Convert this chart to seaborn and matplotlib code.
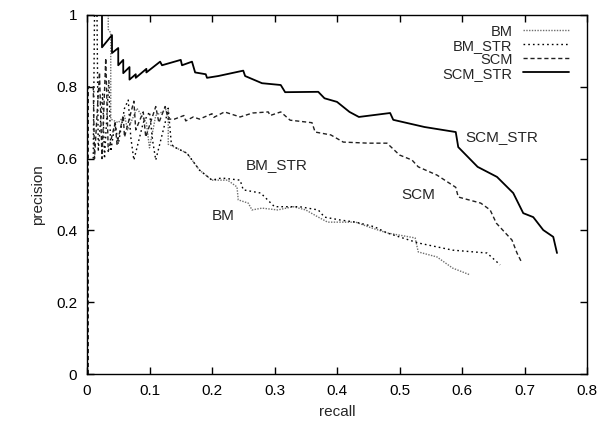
import matplotlib
matplotlib.use("Agg")
import matplotlib.pyplot as plt
import seaborn as sns
import pandas as pd

# ---- data ----
bm_recall = [0.034, 0.034, 0.038, 0.038, 0.05, 0.06, 0.065, 0.08, 0.095, 0.1, 0.11, 0.13, 0.13,
             0.14, 0.16, 0.18, 0.2, 0.225, 0.24, 0.242, 0.258, 0.264, 0.28, 0.305, 0.33, 0.35,
             0.37, 0.385, 0.43, 0.45, 0.48, 0.525, 0.53, 0.56, 0.585, 0.613]
bm_prec = [1.0, 0.96, 0.95, 0.71, 0.70, 0.72, 0.68, 0.74, 0.70, 0.63, 0.72, 0.74, 0.64,
           0.632, 0.615, 0.568, 0.54, 0.54, 0.521, 0.485, 0.476, 0.457, 0.462, 0.457, 0.466, 0.457,
           0.437, 0.423, 0.423, 0.41, 0.393, 0.379, 0.34, 0.326, 0.295, 0.276]

bmstr_recall = [0.01, 0.012, 0.016, 0.018, 0.025, 0.028, 0.035, 0.038, 0.045, 0.05, 0.06, 0.066,
                0.07, 0.075, 0.09, 0.1, 0.105, 0.11, 0.125, 0.13, 0.135, 0.14, 0.16, 0.18, 0.2,
                0.215, 0.245, 0.25, 0.278, 0.3, 0.34, 0.37, 0.38, 0.405, 0.43, 0.46, 0.48, 0.53,
                0.585, 0.64, 0.661]
bmstr_prec = [0.6, 1.0, 1.0, 0.62, 0.78, 0.6, 0.82, 0.62, 0.70, 0.64, 0.74, 0.763,
              0.66, 0.596, 0.70, 0.73, 0.65, 0.596, 0.70, 0.74, 0.64, 0.632, 0.615, 0.568, 0.54,
              0.546, 0.54, 0.513, 0.504, 0.466, 0.466, 0.457, 0.437, 0.429, 0.423, 0.41, 0.393, 0.365,
              0.345, 0.337, 0.304]

scm_recall = [0.002, 0.002, 0.01, 0.012, 0.02, 0.024, 0.03, 0.034, 0.045, 0.048, 0.058, 0.06,
              0.075, 0.078, 0.09, 0.094, 0.11, 0.115, 0.125, 0.13, 0.14, 0.155, 0.158, 0.17, 0.18,
              0.2, 0.203, 0.22, 0.245, 0.265, 0.29, 0.293, 0.31, 0.325, 0.36, 0.365, 0.39, 0.41,
              0.45, 0.48, 0.5, 0.52, 0.53, 0.56, 0.59, 0.594, 0.63, 0.645, 0.655, 0.68, 0.688, 0.696]
scm_prec = [0.0, 0.8, 0.8, 0.6, 0.84, 0.6, 0.88, 0.62, 0.70, 0.64, 0.72, 0.66,
            0.76, 0.68, 0.73, 0.66, 0.745, 0.70, 0.745, 0.71, 0.71, 0.72, 0.705, 0.716, 0.71,
            0.725, 0.715, 0.73, 0.716, 0.727, 0.73, 0.72, 0.73, 0.707, 0.70, 0.674, 0.666, 0.646,
            0.643, 0.643, 0.61, 0.596, 0.577, 0.554, 0.52, 0.493, 0.476, 0.457, 0.42, 0.373, 0.337,
            0.309]

scmstr_recall = [0.024, 0.024, 0.04, 0.04, 0.05, 0.05, 0.058, 0.058, 0.068, 0.068, 0.078, 0.078,
                 0.095, 0.095, 0.117, 0.12, 0.13, 0.15, 0.152, 0.168, 0.173, 0.19, 0.192, 0.21,
                 0.25, 0.253, 0.28, 0.31, 0.317, 0.37, 0.38, 0.40, 0.42, 0.435, 0.485, 0.49,
                 0.54, 0.59, 0.594, 0.625, 0.656, 0.682, 0.698, 0.714, 0.73, 0.746, 0.752]
scmstr_prec = [1.0, 0.91, 0.944, 0.894, 0.908, 0.86, 0.875, 0.838, 0.855, 0.82, 0.835, 0.825,
               0.85, 0.84, 0.87, 0.86, 0.865, 0.875, 0.86, 0.87, 0.84, 0.835, 0.825, 0.83,
               0.845, 0.83, 0.81, 0.805, 0.785, 0.786, 0.768, 0.758, 0.73, 0.716, 0.727, 0.708,
               0.688, 0.674, 0.632, 0.577, 0.549, 0.504, 0.448, 0.437, 0.401, 0.382, 0.337]

x_ticks = [0, 0.1, 0.2, 0.3, 0.4, 0.5, 0.6, 0.7, 0.8]
x_tick_labels = ["0", "0.1", "0.2", "0.3", "0.4", "0.5", "0.6", "0.7", "0.8"]
y_ticks = [0, 0.2, 0.4, 0.6, 0.8, 1]
y_tick_labels = ["0", "0.2", "0.4", "0.6", "0.8", "1"]

series = [
    ("BM", bm_recall, bm_prec, dict(color="#6e6e6e", lw=1.0, linestyle=(0, (1, 1)))),
    ("BM_STR", bmstr_recall, bmstr_prec, dict(color="black", lw=1.0, linestyle=(0, (1.2, 2.2)))),
    ("SCM", scm_recall, scm_prec, dict(color="#202020", lw=1.0, linestyle=(0, (3, 2)))),
    ("SCM_STR", scmstr_recall, scmstr_prec, dict(color="black", lw=1.3, linestyle="-")),
]

sns.set_style("ticks")
plt.rcParams["font.family"] = ["Liberation Sans", "DejaVu Sans"]

FS = 11

fig = plt.figure(figsize=(6.02, 4.23), dpi=100)
ax = fig.add_axes([87 / 602, 1 - 374 / 423, 500 / 602, 359 / 423])

for name, xs, ys, style in series:
    df = pd.DataFrame({"recall": xs, "precision": ys})
    sns.lineplot(data=df, x="recall", y="precision", sort=False, estimator=None,
                 ax=ax, label=name, **style)

ax.set_xlim(0, 0.8)
ax.set_ylim(0, 1)
ax.set_xticks(x_ticks)
ax.set_xticklabels(x_tick_labels)
ax.set_yticks(y_ticks)
ax.set_yticklabels(y_tick_labels)
ax.tick_params(direction="in", length=5, width=1, top=True, right=True,
               labelsize=FS, pad=7, colors="black")
for s in ax.spines.values():
    s.set_linewidth(1.0)
    s.set_color("black")
ax.set_xlabel("recall", fontsize=FS, labelpad=5)
ax.set_ylabel("precision", fontsize=FS, labelpad=8)

leg = ax.legend(loc="upper right", frameon=False, markerfirst=False, fontsize=10.5,
                handlelength=3.2, handletextpad=0.7, labelspacing=0.0,
                borderaxespad=0.3, bbox_to_anchor=(0.985, 1.0))
leg._legend_box.align = "right"
for vp in leg._legend_box.get_children()[1].get_children():
    for hp in vp.get_children():
        hp.align = "right"

ax.text(0.304, 0.582, "BM_STR", fontsize=FS, ha="center", va="center")
ax.text(0.218, 0.44, "BM", fontsize=FS, ha="center", va="center")
ax.text(0.53, 0.50, "SCM", fontsize=FS, ha="center", va="center")
ax.text(0.664, 0.66, "SCM_STR", fontsize=FS, ha="center", va="center")

fig.savefig("out.png", dpi=100)
